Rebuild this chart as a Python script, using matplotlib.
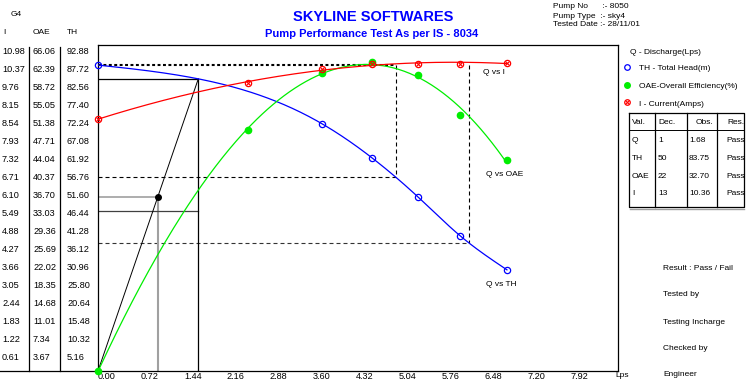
import numpy as np
import matplotlib
matplotlib.use("Agg")
import matplotlib.pyplot as plt
from matplotlib.transforms import blended_transform_factory

plt.rcParams['font.family'] = ['Liberation Sans', 'DejaVu Sans']

# measured test points (no head reading at the second point)
q = [0.00, 2.51, 3.76, 4.59, 5.36, 6.07, 6.85]          # discharge, Lps
th = [87.7, np.nan, 70.8, 61.1, 49.9, 38.7, 29.0]        # total head, m
oae = [0.0, 49.1, 60.8, 63.0, 60.4, 52.2, 43.0]          # overall efficiency, %
amps = [8.54, 9.76, 10.25, 10.40, 10.40, 10.42, 10.45]   # current, A

# declared / observed duty point
dec_q, dec_th = 1.0, 50.0
obs_q, obs_th, obs_oae = 1.68, 83.75, 32.70
guide_q = [4.99, 6.21]

# axis scales (one row = one step of each scale)
th_ticks = [92.88, 87.72, 82.56, 77.40, 72.24, 67.08, 61.92, 56.76, 51.60,
            46.44, 41.28, 36.12, 30.96, 25.80, 20.64, 15.48, 10.32, 5.16]
oae_labels = ["66.06", "62.39", "58.72", "55.05", "51.38", "47.71", "44.04", "40.37", "36.70",
              "33.03", "29.36", "25.69", "22.02", "18.35", "14.68", "11.01", "7.34", "3.67"]
i_labels = ["10.98", "10.37", "9.76", "8.15", "8.54", "7.93", "7.32", "6.71", "6.10",
            "5.49", "4.88", "4.27", "3.66", "3.05", "2.44", "1.83", "1.22", "0.61"]
q_ticks = [0.00, 0.72, 1.44, 2.16, 2.88, 3.60, 4.32, 5.04, 5.76, 6.48, 7.20, 7.92]

table_rows = [["Q", "1", "1.68", "Pass"],
              ["TH", "50", "83.75", "Pass"],
              ["OAE", "22", "32.70", "Pass"],
              ["I", "13", "10.36", "Pass"]]

TH_PER_OAE = 92.88 / 66.06
TH_PER_AMP = 92.88 / 10.98

W, H = 748, 390
FS = 6.6      # numbers
FT = 6.0      # words
BLUE, RED, GREEN = "#0000ff", "#ff0000", "#00ee00"


def spline(x, y, xs):
    """Natural cubic spline through (x, y), evaluated at xs."""
    x = np.asarray(x, float); y = np.asarray(y, float)
    n = len(x); h = np.diff(x)
    A = np.zeros((n, n)); b = np.zeros(n)
    A[0, 0] = A[-1, -1] = 1.0
    for i in range(1, n - 1):
        A[i, i - 1], A[i, i], A[i, i + 1] = h[i - 1], 2 * (h[i - 1] + h[i]), h[i]
        b[i] = 3 * ((y[i + 1] - y[i]) / h[i] - (y[i] - y[i - 1]) / h[i - 1])
    c = np.linalg.solve(A, b)
    bc = np.diff(y) / h - h * (2 * c[:-1] + c[1:]) / 3
    d = np.diff(c) / (3 * h)
    xs = np.atleast_1d(xs)
    k = np.clip(np.searchsorted(x, xs) - 1, 0, n - 2)
    dx = xs - x[k]
    return y[k] + bc[k] * dx + c[k] * dx**2 + d[k] * dx**3


fig = plt.figure(figsize=(W / 100, H / 100), dpi=100)
ov = fig.add_axes([0, 0, 1, 1], zorder=0)
ov.set_xlim(0, W); ov.set_ylim(H, 0); ov.axis("off")

ax = fig.add_axes([98 / W, 1 - 371 / H, 520 / W, 326 / H], zorder=1)
ax.patch.set_alpha(0)
ax.set_xlim(0, 520 / 59.7)
ax.set_ylim(0, 326 * 5.16 / 18)
ax.set_xticks([]); ax.set_yticks([])
for s in ax.spines.values():
    s.set_linewidth(0.9); s.set_color("black")

# head curve through the readings and the duty point; OAE and I fitted
qa = np.array(q); tha = np.array(th, float)
ok = ~np.isnan(tha)
hq = np.r_[qa[ok][:1], obs_q, qa[ok][1:]]
hv = np.r_[tha[ok][:1], obs_th, tha[ok][1:]]
qq = np.linspace(0, q[-1], 300)
th_fit = spline(hq, hv, qq)
oae_fit = np.polyval(np.polyfit(q, oae, 3), qq) * TH_PER_OAE
i_fit = np.polyval(np.polyfit(q, amps, 3), qq) * TH_PER_AMP

# guide lines
dash = (0, (3.6, 2.7))
ax.plot([0, guide_q[0]], [th[0], th[0]], color="black", lw=1.5, ls=(0, (1.4, 1.2)), zorder=2)
for gq, col in zip(guide_q, ["black", "#333333"]):
    gth = spline(hq, hv, gq)[0]
    ax.plot([gq, gq], [th[0], gth], color="black", lw=0.8, ls=dash, zorder=2)
    ax.plot([0, gq], [gth, gth], color=col, lw=0.8, ls=dash, zorder=2)

ax.plot([dec_q, dec_q], [0, dec_th], color="#a0a0a0", lw=1.5, zorder=2)
ax.plot([0, dec_q], [dec_th, dec_th], color="#a0a0a0", lw=1.2, zorder=2)
ax.plot([0, obs_q], [obs_oae * TH_PER_OAE] * 2, color="#404040", lw=0.9, zorder=2)
ax.plot([obs_q, obs_q], [0, obs_th], color="black", lw=0.9, zorder=2)
ax.plot([0, obs_q], [obs_th, obs_th], color="black", lw=0.9, zorder=2)
ax.plot([0, obs_q], [0, obs_th], color="black", lw=0.7, zorder=2)
ax.plot([dec_q], [dec_th], "o", color="black", ms=4, zorder=6)

# curves and points
ax.plot(qq, th_fit, color=BLUE, lw=0.9, zorder=3)
ax.plot(qq, oae_fit, color=GREEN, lw=0.9, zorder=3)
ax.plot(qq, i_fit, color=RED, lw=0.9, zorder=4)
ax.plot(qa[ok], tha[ok], "o", mfc="none", mec=BLUE, ms=4.5, mew=0.9, zorder=5, clip_on=False)
ax.plot(q, np.array(oae) * TH_PER_OAE, "o", color=GREEN, ms=4.5, zorder=5, clip_on=False)
ax.plot(q, np.array(amps) * TH_PER_AMP, "o", mfc="none", mec=RED, ms=4.5, mew=0.9, zorder=5, clip_on=False)
ax.plot(q, np.array(amps) * TH_PER_AMP, "x", color=RED, ms=2.6, mew=0.8, zorder=5, clip_on=False)

ov.text(483, 73, "Q vs I", fontsize=FT, va="center")
ov.text(486, 175, "Q vs OAE", fontsize=FT, va="center")
ov.text(486, 285, "Q vs TH", fontsize=FT, va="center")

# left scale columns
ty = blended_transform_factory(ov.transData, ax.transData)
for t, ol, il in zip(th_ticks, oae_labels, i_labels):
    ov.text(2, t, il, transform=ty, fontsize=FS, va="top")
    ov.text(33, t, ol, transform=ty, fontsize=FS, va="top")
    ov.text(67, t, "%.2f" % t, transform=ty, fontsize=FS, va="top")
ov.plot([29, 29], [47, 371], color="black", lw=0.9)
ov.plot([60, 60], [47, 371], color="black", lw=0.9)
ov.plot([0, 98], [371, 371], color="black", lw=0.9)
ov.text(11, 15, "G4", fontsize=FT, va="center")
ov.text(3, 33, "I", fontsize=FT, va="center")
ov.text(33, 33, "OAE", fontsize=FT, va="center")
ov.text(67, 33, "TH", fontsize=FT, va="center")

tx = blended_transform_factory(ax.transData, ov.transData)
for v in q_ticks:
    ov.text(v, 372, "%.2f" % v, transform=tx, fontsize=FS, va="top", ha="left")
ov.text(615, 372, "Lps", fontsize=FT, va="top")

# titles
ov.text(373, 17, "SKYLINE SOFTWARES", color=BLUE, fontsize=10.5, fontweight="bold",
        ha="center", va="center")
ov.text(372, 34, "Pump Performance Test As per IS - 8034", color=BLUE, fontsize=8.0,
        fontweight="bold", ha="center", va="center")
ov.text(553, 7, "Pump No      :- 8050", fontsize=FT, va="center")
ov.text(553, 16, "Pump Type  :- sky4", fontsize=FT, va="center")
ov.text(553, 25, "Tested Date :- 28/11/01", fontsize=FT, va="center")

# legend
ov.text(630, 52, "Q - Discharge(Lps)", fontsize=FT, va="center")
ov.plot([627], [67], "o", mfc="none", mec=BLUE, ms=4, mew=0.9)
ov.text(639, 68, "TH - Total Head(m)", fontsize=FT, va="center")
ov.plot([627], [85], "o", color=GREEN, ms=4)
ov.text(639, 87, "OAE-Overall Efficiency(%)", fontsize=FT, va="center")
ov.plot([627], [102], "o", mfc="none", mec=RED, ms=4, mew=0.9)
ov.plot([627], [102], "x", color=RED, ms=2.4, mew=0.8)
ov.text(639, 105, "I - Current(Amps)", fontsize=FT, va="center")

# result table
x0, x1, y0, y1 = 629, 744, 113, 207
cols = [655, 687, 717]
ov.plot([x0, x1, x1, x0, x0], [y0, y0, y1, y1, y0], color="black", lw=0.9)
ov.plot([x0 + 1, x1], [y1 + 1.5, y1 + 1.5], color="#a0a0a0", lw=1.0)
for c in cols:
    ov.plot([c, c], [y0, y1], color="black", lw=0.9)
ov.plot([x0, x1], [130, 130], color="black", lw=0.7)
for xx, h in zip([632, 658, 696, 727], ["Val.", "Dec.", "Obs.", "Res."]):
    ov.text(xx, 123, h, fontsize=FT, va="center")
for r, row in enumerate(table_rows):
    yy = 141 + r * 17.5
    for xx, s in zip([632, 658, 689, 726], row):
        ov.text(xx, yy, s, fontsize=FT, va="center")

for yy, s in zip([268, 295, 322, 348, 375],
                 ["Result : Pass / Fail", "Tested by", "Testing Incharge", "Checked by", "Engineer"]):
    ov.text(663, yy, s, fontsize=FT, va="center")

fig.savefig("out.png", dpi=100, facecolor="white")
